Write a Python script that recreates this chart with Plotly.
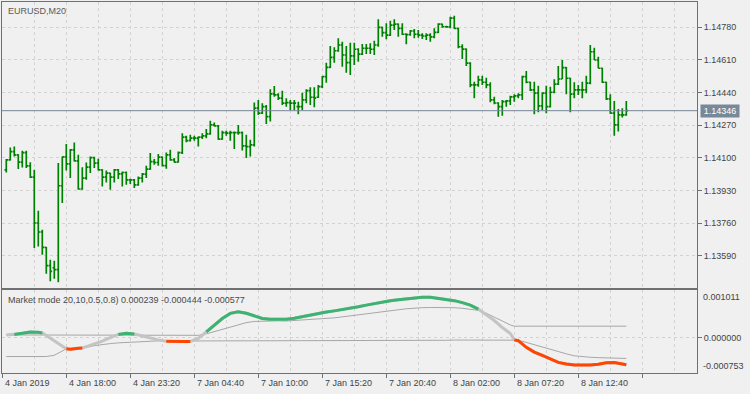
import plotly.graph_objects as go

# ---------------- price data (EURUSD, M20) ----------------
bar_index = list(range(156))
open_ = [1.14038, 1.14090, 1.14133, 1.14116, 1.14078, 1.14128, 1.14059, 1.14000, 1.13761, 1.13714,
         1.13634, 1.13539, 1.13528, 1.13518, 1.13955, 1.14105, 1.14069, 1.14142, 1.14085, 1.13938,
         1.13995, 1.14052, 1.14102, 1.14073, 1.14038, 1.14000, 1.14021, 1.14000, 1.14038, 1.14017,
         1.14024, 1.13986, 1.13986, 1.13960, 1.13995, 1.14016, 1.14042, 1.14081, 1.14076, 1.14104,
         1.14060, 1.14116, 1.14090, 1.14078, 1.14128, 1.14208, 1.14190, 1.14203, 1.14203, 1.14208,
         1.14215, 1.14225, 1.14272, 1.14267, 1.14198, 1.14232, 1.14229, 1.14232, 1.14232, 1.14232,
         1.14163, 1.14159, 1.14168, 1.14359, 1.14333, 1.14367, 1.14315, 1.14433, 1.14428, 1.14411,
         1.14385, 1.14388, 1.14385, 1.14367, 1.14367, 1.14402, 1.14450, 1.14416, 1.14416, 1.14471,
         1.14523, 1.14572, 1.14624, 1.14658, 1.14688, 1.14636, 1.14596, 1.14631, 1.14666, 1.14641,
         1.14671, 1.14671, 1.14666, 1.14688, 1.14780, 1.14752, 1.14740, 1.14792, 1.14797, 1.14775,
         1.14744, 1.14742, 1.14761, 1.14744, 1.14740, 1.14735, 1.14740, 1.14730, 1.14754, 1.14797,
         1.14783, 1.14782, 1.14828, 1.14775, 1.14679, 1.14667, 1.14594, 1.14480, 1.14480, 1.14506,
         1.14494, 1.14480, 1.14402, 1.14386, 1.14367, 1.14393, 1.14397, 1.14418, 1.14423, 1.14428,
         1.14523, 1.14494, 1.14454, 1.14437, 1.14371, 1.14437, 1.14367, 1.14442, 1.14484, 1.14511,
         1.14570, 1.14515, 1.14432, 1.14454, 1.14454, 1.14454, 1.14489, 1.14653, 1.14610, 1.14567,
         1.14494, 1.14407, 1.14333, 1.14272, 1.14324, 1.14324]
high = [1.14094, 1.14154, 1.14159, 1.14119, 1.14137, 1.14137, 1.14078, 1.14038, 1.13825, 1.13726,
        1.13636, 1.13570, 1.13565, 1.14073, 1.14107, 1.14173, 1.14146, 1.14180, 1.14116, 1.14052,
        1.14076, 1.14107, 1.14106, 1.14095, 1.14041, 1.14034, 1.14023, 1.14042, 1.14042, 1.14029,
        1.14029, 1.13991, 1.13990, 1.14003, 1.14021, 1.14059, 1.14125, 1.14094, 1.14121, 1.14107,
        1.14128, 1.14142, 1.14100, 1.14133, 1.14229, 1.14215, 1.14220, 1.14215, 1.14211, 1.14229,
        1.14250, 1.14294, 1.14284, 1.14272, 1.14242, 1.14242, 1.14242, 1.14237, 1.14272, 1.14237,
        1.14220, 1.14194, 1.14388, 1.14402, 1.14385, 1.14376, 1.14458, 1.14475, 1.14437, 1.14450,
        1.14411, 1.14402, 1.14402, 1.14393, 1.14440, 1.14458, 1.14468, 1.14468, 1.14480, 1.14527,
        1.14596, 1.14683, 1.14676, 1.14723, 1.14705, 1.14683, 1.14700, 1.14700, 1.14671, 1.14693,
        1.14693, 1.14697, 1.14710, 1.14822, 1.14783, 1.14801, 1.14814, 1.14822, 1.14800, 1.14801,
        1.14749, 1.14766, 1.14771, 1.14766, 1.14749, 1.14749, 1.14749, 1.14775, 1.14801, 1.14799,
        1.14788, 1.14835, 1.14840, 1.14776, 1.14692, 1.14670, 1.14598, 1.14497, 1.14528, 1.14528,
        1.14518, 1.14494, 1.14419, 1.14390, 1.14402, 1.14402, 1.14424, 1.14432, 1.14437, 1.14528,
        1.14553, 1.14497, 1.14497, 1.14476, 1.14442, 1.14476, 1.14471, 1.14510, 1.14579, 1.14610,
        1.14573, 1.14518, 1.14494, 1.14480, 1.14497, 1.14528, 1.14688, 1.14674, 1.14627, 1.14570,
        1.14497, 1.14432, 1.14397, 1.14355, 1.14359, 1.14397]
low = [1.14024, 1.14087, 1.14107, 1.14042, 1.14050, 1.14047, 1.13996, 1.13631, 1.13639, 1.13596,
       1.13497, 1.13457, 1.13471, 1.13452, 1.13865, 1.14034, 1.13995, 1.14081, 1.13934, 1.13934,
       1.13986, 1.14021, 1.14047, 1.14034, 1.13951, 1.13972, 1.13934, 1.13972, 1.13990, 1.13951,
       1.13960, 1.13964, 1.13943, 1.13955, 1.13972, 1.13995, 1.14038, 1.14064, 1.14059, 1.14055,
       1.14043, 1.14085, 1.14076, 1.14076, 1.14121, 1.14182, 1.14185, 1.14190, 1.14159, 1.14198,
       1.14203, 1.14220, 1.14263, 1.14194, 1.14194, 1.14215, 1.14190, 1.14147, 1.14220, 1.14138,
       1.14099, 1.14107, 1.14159, 1.14324, 1.14329, 1.14277, 1.14289, 1.14419, 1.14402, 1.14376,
       1.14367, 1.14350, 1.14350, 1.14328, 1.14350, 1.14385, 1.14376, 1.14364, 1.14412, 1.14464,
       1.14492, 1.14568, 1.14596, 1.14653, 1.14575, 1.14544, 1.14532, 1.14584, 1.14601, 1.14636,
       1.14641, 1.14641, 1.14636, 1.14679, 1.14731, 1.14718, 1.14735, 1.14766, 1.14731, 1.14740,
       1.14692, 1.14736, 1.14723, 1.14726, 1.14719, 1.14714, 1.14705, 1.14723, 1.14750, 1.14778,
       1.14778, 1.14775, 1.14771, 1.14671, 1.14615, 1.14579, 1.14468, 1.14411, 1.14471, 1.14480,
       1.14463, 1.14390, 1.14380, 1.14315, 1.14320, 1.14367, 1.14376, 1.14393, 1.14411, 1.14402,
       1.14489, 1.14449, 1.14328, 1.14338, 1.14350, 1.14333, 1.14362, 1.14437, 1.14480, 1.14511,
       1.14432, 1.14338, 1.14411, 1.14428, 1.14411, 1.14437, 1.14484, 1.14610, 1.14567, 1.14490,
       1.14402, 1.14330, 1.14216, 1.14237, 1.14310, 1.14320]
close = [1.14090, 1.14133, 1.14116, 1.14078, 1.14128, 1.14059, 1.14000, 1.13761, 1.13714, 1.13634,
         1.13539, 1.13509, 1.13518, 1.13955, 1.14105, 1.14069, 1.14142, 1.14085, 1.13938, 1.13995,
         1.14052, 1.14102, 1.14073, 1.14038, 1.14000, 1.14021, 1.14000, 1.14038, 1.14017, 1.14024,
         1.13986, 1.13986, 1.13960, 1.13995, 1.14016, 1.14042, 1.14081, 1.14076, 1.14104, 1.14060,
         1.14116, 1.14090, 1.14078, 1.14128, 1.14208, 1.14190, 1.14203, 1.14203, 1.14208, 1.14215,
         1.14225, 1.14272, 1.14267, 1.14198, 1.14232, 1.14229, 1.14232, 1.14232, 1.14232, 1.14163,
         1.14159, 1.14168, 1.14359, 1.14333, 1.14367, 1.14315, 1.14433, 1.14428, 1.14411, 1.14385,
         1.14388, 1.14385, 1.14385, 1.14367, 1.14402, 1.14450, 1.14416, 1.14411, 1.14471, 1.14523,
         1.14572, 1.14624, 1.14658, 1.14688, 1.14636, 1.14596, 1.14631, 1.14666, 1.14641, 1.14671,
         1.14671, 1.14666, 1.14688, 1.14780, 1.14752, 1.14740, 1.14792, 1.14797, 1.14775, 1.14744,
         1.14742, 1.14761, 1.14744, 1.14740, 1.14735, 1.14740, 1.14730, 1.14754, 1.14797, 1.14783,
         1.14782, 1.14828, 1.14775, 1.14679, 1.14667, 1.14594, 1.14480, 1.14480, 1.14506, 1.14494,
         1.14480, 1.14402, 1.14386, 1.14367, 1.14393, 1.14397, 1.14418, 1.14423, 1.14428, 1.14523,
         1.14494, 1.14454, 1.14437, 1.14371, 1.14437, 1.14367, 1.14442, 1.14484, 1.14511, 1.14570,
         1.14515, 1.14432, 1.14454, 1.14454, 1.14454, 1.14489, 1.14653, 1.14610, 1.14567, 1.14494,
         1.14407, 1.14333, 1.14272, 1.14324, 1.14324, 1.14346]

price_ticks = [1.13590, 1.13760, 1.13930, 1.14100, 1.14270, 1.14440, 1.14610, 1.14780]
time_tick_bars = [-1, 15, 31, 47, 63, 79, 95, 111, 127, 143]
time_labels = ["4 Jan 2019", "4 Jan 18:00", "4 Jan 23:20", "7 Jan 04:40", "7 Jan 10:00",
               "7 Jan 15:20", "7 Jan 20:40", "8 Jan 02:00", "8 Jan 07:20", "8 Jan 12:40"]

# ---------------- Market mode indicator (values in millionths) ----------------
ind_bars = ([0, 2, 4, 6, 8, 9, 10, 12, 14, 15, 16, 18, 19] + list(range(20, 127, 2))
            + [127] + list(range(128, 156, 2)) + [155])
mm_mean_u = [50, 64, 85, 116, 110, 95, 43, -73, -199, -241, -248, -231, -222,
             -193, -136, -80, -4, 64, 89, 75, 32, -14, -52,
             -80, -88, -88, -84, -21, 116, 249, 401, 510, 542,
             512, 453, 401, 388, 384, 384, 407, 443, 478, 516,
             537, 563, 590, 615, 649, 685, 718, 752, 775, 798,
             815, 832, 853, 853, 832, 811, 779, 737, 685, 600,
             484, 358, 211, 85, -52, -69, -210, -311, -381, -462, -528,
             -561, -583, -585, -585, -568, -536, -530, -564,
             -577]
mm_upper_u = ([53] * 13 + [53] * 10 +
              [53, 53, 53, 53, 45, 75, 125, 180, 228, 272,
               314, 339, 348, 354, 352, 348, 358, 369, 375, 386,
               401, 415, 436, 453, 478, 500, 522, 548, 567, 586,
               607, 622, 630, 634, 636, 632, 630, 617, 596, 573,
               512, 422, 348, 264, 239, 239, 239, 239, 239, 239, 239,
               239, 239, 239, 239, 239, 239, 239, 239,
               239])
mm_lower_u = [-404, -404, -404, -404, -404, -404, -404, -378, -294, -241, -248, -231, -222,
              -212, -174, -149, -130, -115, -104, -94, -83, -73, -72,
              -76, -76, -76, -76, -67, -67, -67, -67, -67, -67,
              -67, -67, -67, -67, -67, -67, -67, -67, -67, -67,
              -67, -67, -67, -67, -67, -67, -60, -60, -60, -60,
              -60, -60, -60, -60, -60, -60, -55, -55, -55, -55,
              -55, -55, -55, -55, -52, -58, -105, -153, -210, -252, -311,
              -347, -389, -410, -420, -428, -434, -438, -442,
              -444]
assert len(ind_bars) == len(mm_mean_u) == len(mm_upper_u) == len(mm_lower_u)
ind_max, ind_min = 0.001011, -0.000753
legend_values = ["0.000239", "-0.000444", "-0.000577"]

mm_mean = [v * 1e-6 for v in mm_mean_u]
mm_upper = [v * 1e-6 for v in mm_upper_u]
mm_lower = [v * 1e-6 for v in mm_lower_u]

# state: green when mean above upper, red when below lower, otherwise neutral
state = []
for m, u, l in zip(mm_mean, mm_upper, mm_lower):
    state.append(1 if m >= u else (-1 if m <= l else 0))

def masked(s):
    return [m if state[k] == s else None for k, m in enumerate(mm_mean)]

BG = '#F0F0F0'
BORDER = '#707070'
GRID = '#D2D2D2'
TXT = '#444444'
BAR = '#008000'

x0 = -1.075
x1 = x0 + 173.75

fig = go.Figure()
fig.add_trace(go.Ohlc(x=bar_index, open=open_, high=high, low=low, close=close,
                      increasing=dict(line=dict(color=BAR, width=1.7)),
                      decreasing=dict(line=dict(color=BAR, width=1.7)),
                      tickwidth=0.45, xaxis='x', yaxis='y', hoverinfo='skip',
                      showlegend=False))

fig.add_trace(go.Scatter(x=ind_bars, y=mm_upper, mode='lines', xaxis='x2', yaxis='y2',
                         line=dict(color='#A6A6A6', width=1), hoverinfo='skip'))
fig.add_trace(go.Scatter(x=ind_bars, y=mm_lower, mode='lines', xaxis='x2', yaxis='y2',
                         line=dict(color='#A6A6A6', width=1), hoverinfo='skip'))
fig.add_trace(go.Scatter(x=ind_bars, y=mm_mean, mode='lines', xaxis='x2', yaxis='y2',
                         line=dict(color='#C4C4C4', width=3), hoverinfo='skip'))
fig.add_trace(go.Scatter(x=ind_bars, y=masked(1), mode='lines', xaxis='x2', yaxis='y2',
                         line=dict(color='#3CB371', width=3), hoverinfo='skip', connectgaps=False))
fig.add_trace(go.Scatter(x=ind_bars, y=masked(-1), mode='lines', xaxis='x2', yaxis='y2',
                         line=dict(color='#FF4500', width=3), hoverinfo='skip', connectgaps=False))

axis_common = dict(showline=True, mirror=True, linecolor=BORDER, linewidth=1, zeroline=False)
grid_common = dict(showgrid=True, gridcolor=GRID, griddash='3px,3px', gridwidth=1)

main_bottom = 0.2299
ind_top = 0.2245

fig.update_layout(
    width=750, height=394,
    margin=dict(l=2, r=53, t=2, b=21),
    paper_bgcolor=BG, plot_bgcolor=BG,
    showlegend=False,
    hovermode=False,
    font=dict(family='Liberation Sans, Arial, sans-serif', size=9, color=TXT),
    xaxis=dict(domain=[0, 1], anchor='y', range=[x0, x1], tickmode='linear', tick0=-1, dtick=8,
               showticklabels=False, ticks='', rangeslider=dict(visible=False),
               **axis_common, **grid_common),
    yaxis=dict(domain=[main_bottom, 1], anchor='x', side='right', range=[1.13424, 1.14912],
               tickvals=price_ticks, ticktext=[f'{v:.5f}' for v in price_ticks],
               ticks='outside', ticklen=4, tickcolor=BORDER,
               **axis_common, **grid_common),
    xaxis2=dict(domain=[0, 1], anchor='y2', range=[x0, x1], tickmode='linear', tick0=-1, dtick=16,
                showticklabels=False, ticks='outside', ticklen=4, tickcolor=BORDER,
                minor=dict(tick0=-1, dtick=8, showgrid=True, gridcolor=GRID, griddash='3px,3px', ticks=''),
                **axis_common, **grid_common),
    yaxis2=dict(domain=[0, ind_top], anchor='x2', side='right', range=[ind_min, ind_max],
                tickvals=[0], ticktext=['0.000000'], ticks='outside', ticklen=4, tickcolor=BORDER,
                **axis_common, **grid_common),
)

# current price line and label
last = close[-1]
fig.add_shape(type='line', xref='x domain', x0=0, x1=1, yref='y', y0=last, y1=last,
              line=dict(color='#778899', width=1))
fig.add_annotation(xref='paper', x=1, xanchor='left', xshift=3, yref='y', y=last,
                   text=f'{last:.5f}', showarrow=False, bgcolor='#778899',
                   font=dict(color='white', size=9), width=38, height=12, borderpad=0)

# time labels
for b, t in zip(time_tick_bars, time_labels):
    fig.add_annotation(xref='x2', x=b, xanchor='left', xshift=1, yref='paper', y=0,
                       yanchor='top', yshift=-3, text=t, showarrow=False,
                       font=dict(size=9, color=TXT))

# indicator scale extremes
fig.add_annotation(xref='paper', x=1, xanchor='left', xshift=4, yref='y2', y=ind_max,
                   yanchor='top', text=f'{ind_max:.6f}', showarrow=False, font=dict(size=9, color=TXT))
fig.add_annotation(xref='paper', x=1, xanchor='left', xshift=4, yref='y2', y=ind_min,
                   yanchor='bottom', text=f'{ind_min:.6f}', showarrow=False, font=dict(size=9, color=TXT))

# titles
fig.add_annotation(xref='paper', x=0, xanchor='left', xshift=4, yref='paper', y=1,
                   yanchor='top', yshift=-2, text='EURUSD,M20', showarrow=False,
                   font=dict(size=9, color='#5A5A5A'))
fig.add_annotation(xref='paper', x=0, xanchor='left', xshift=4, yref='paper', y=ind_top,
                   yanchor='top', yshift=-3,
                   text='Market mode 20,10,0.5,0.8) ' + ' '.join(legend_values),
                   showarrow=False, font=dict(size=9, color='#4A4A4A'))

fig.write_html('out.html', config={'displayModeBar': False},
               post_script="document.body.style.margin='0px';document.body.style.overflow='hidden';")
